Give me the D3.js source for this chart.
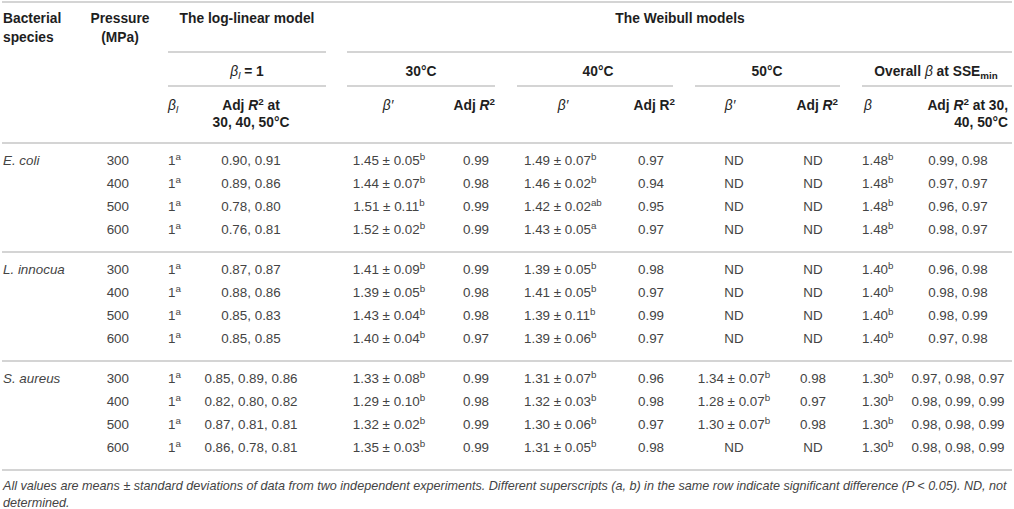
<!DOCTYPE html>
<html><head><meta charset="utf-8">
<script src="https://cdn.jsdelivr.net/npm/d3@7"></script>
<style>
body{margin:0;background:#fff}
svg{display:block}
text{font-family:"Liberation Sans",Arial,Helvetica,sans-serif}
</style>
</head><body>
<svg id="c" width="1014" height="509"></svg>
<script>
// ---------- data ----------
const species = ["E. coli", "L. innocua", "S. aureus"];
const pressures = ["300","400","500","600","300","400","500","600","300","400","500","600"];
const betaL    = ["1","1","1","1","1","1","1","1","1","1","1","1"];
const betaLSup = ["a","a","a","a","a","a","a","a","a","a","a","a"];
const logLinR2 = ["0.90, 0.91","0.89, 0.86","0.78, 0.80","0.76, 0.81",
                  "0.87, 0.87","0.88, 0.86","0.85, 0.83","0.85, 0.85",
                  "0.85, 0.89, 0.86","0.82, 0.80, 0.82","0.87, 0.81, 0.81","0.86, 0.78, 0.81"];
const w30Beta = ["1.45 ± 0.05","1.44 ± 0.07","1.51 ± 0.11","1.52 ± 0.02",
                 "1.41 ± 0.09","1.39 ± 0.05","1.43 ± 0.04","1.40 ± 0.04",
                 "1.33 ± 0.08","1.29 ± 0.10","1.32 ± 0.02","1.35 ± 0.03"];
const w30Sup  = ["b","b","b","b","b","b","b","b","b","b","b","b"];
const w30R2   = ["0.99","0.98","0.99","0.99","0.99","0.98","0.98","0.97","0.99","0.98","0.99","0.99"];
const w40Beta = ["1.49 ± 0.07","1.46 ± 0.02","1.42 ± 0.02","1.43 ± 0.05",
                 "1.39 ± 0.05","1.41 ± 0.05","1.39 ± 0.11","1.39 ± 0.06",
                 "1.31 ± 0.07","1.32 ± 0.03","1.30 ± 0.06","1.31 ± 0.05"];
const w40Sup  = ["b","b","ab","a","b","b","b","b","b","b","b","b"];
const w40R2   = ["0.97","0.94","0.95","0.97","0.98","0.97","0.99","0.97","0.96","0.98","0.97","0.98"];
const w50Beta = ["ND","ND","ND","ND","ND","ND","ND","ND","1.34 ± 0.07","1.28 ± 0.07","1.30 ± 0.07","ND"];
const w50Sup  = ["","","","","","","","","b","b","b",""];
const w50R2   = ["ND","ND","ND","ND","ND","ND","ND","ND","0.98","0.97","0.98","ND"];
const overallBeta = ["1.48","1.48","1.48","1.48","1.40","1.40","1.40","1.40","1.30","1.30","1.30","1.30"];
const overallSup  = ["b","b","b","b","b","b","b","b","b","b","b","b"];
const overallR2   = ["0.99, 0.98","0.97, 0.97","0.96, 0.97","0.98, 0.97",
                     "0.96, 0.98","0.98, 0.98","0.98, 0.99","0.97, 0.98",
                     "0.97, 0.98, 0.97","0.98, 0.99, 0.99","0.98, 0.98, 0.99","0.98, 0.98, 0.99"];
const footnote = ["All values are means ± standard deviations of data from two independent experiments. Different superscripts (a, b) in the same row indicate significant difference (P < 0.05). ND, not",
                  "determined."];

// ---------- layout ----------
const svg = d3.select("#c");
const LINE = "#c6c6c6", HEAD = "#1e1e1e", BODY = "#444";
const FS = 13.4, HFS = 13.8;

function rich(g, x, y, anchor, parts, o) {
  o = o || {};
  const t = g.append("text").attr("x", x).attr("y", y).attr("text-anchor", anchor)
    .attr("font-size", o.size || FS).attr("fill", o.color || BODY)
    .attr("font-weight", o.bold ? "bold" : "normal")
    .attr("font-style", o.italic ? "italic" : "normal");
  let off = 0;
  parts.forEach(p => {
    if (typeof p === "string") p = {t: p};
    if (!p.t) return;
    let target = 0;
    if (p.sup) target = -5.2; else if (p.sub) target = 3.5;
    const s = t.append("tspan").text(p.t).attr("dy", target - off);
    off = target;
    if (p.sup || p.sub) s.attr("font-size", 9.8);
    if (p.it !== undefined) s.attr("font-style", p.it ? "italic" : "normal");
    if (p.nb) s.attr("font-weight", "normal");
  });
  return t;
}

// horizontal rules
const hline = (x1, x2, y) => svg.append("line").attr("x1", x1).attr("x2", x2)
  .attr("y1", y).attr("y2", y).attr("stroke", LINE).attr("stroke-width", 1.6);

hline(2, 1012, 2);
hline(168, 326, 52); hline(347, 1012, 52);
hline(168, 326, 86); hline(347, 495, 86); hline(517, 673, 86); hline(695, 840, 86); hline(862, 1012, 86);

// header text
const hg = svg.append("g");
const H = (x, y, a, parts) => rich(hg, x, y + 4.8, a, parts, {bold: true, color: HEAD, size: HFS});
const B = {t: "β", it: true, nb: true};
H(3, 18, "start", ["Bacterial"]); H(3, 37, "start", ["species"]);
H(120, 18, "middle", ["Pressure"]); H(120, 37, "middle", ["(MPa)"]);
H(247, 18, "middle", ["The log-linear model"]);
H(680, 18, "middle", ["The Weibull models"]);
H(247, 71, "middle", [B, {t: "l", sub: true, it: true, nb: true}, " = 1"]);
H(421, 71, "middle", ["30°C"]);
H(598, 71, "middle", ["40°C"]);
H(767, 71, "middle", ["50°C"]);
H(936, 71, "middle", ["Overall ", B, " at SSE", {t: "min", sub: true}]);
H(168, 105, "start", [B, {t: "l", sub: true, it: true, nb: true}]);
H(251, 105, "middle", ["Adj ", {t: "R", it: true}, {t: "2", sup: true}, " at"]);
H(251, 122, "middle", ["30, 40, 50°C"]);
H(388, 105, "middle", [{t: "β′", it: true, nb: true}]);
H(495, 105, "end", ["Adj ", {t: "R", it: true}, {t: "2", sup: true}]);
H(563, 105, "middle", [{t: "β′", it: true, nb: true}]);
H(675, 105, "end", ["Adj R", {t: "2", sup: true}]);
H(730, 105, "middle", [{t: "β′", it: true, nb: true}]);
H(838, 105, "end", ["Adj ", {t: "R", it: true}, {t: "2", sup: true}]);
H(868, 105, "middle", [B]);
H(1008, 105, "end", ["Adj ", {t: "R", it: true}, {t: "2", sup: true}, " at 30,"]);
H(1008, 122, "end", ["40, 50°C"]);

// body: group band scale + row-in-group scale
const groupY = d3.scaleBand().domain(species).range([143, 470]);
const rowY = d3.scaleLinear().domain([0, 3]).range([17, 86.5]);
const rowIdx = d3.range(12);
const yOf = i => groupY(species[Math.floor(i / 4)]) + rowY(i % 4);

species.forEach(s => {
  const y0 = groupY(s);
  hline(2, 1012, y0);
  rich(svg, 3, y0 + rowY(0) + 4.7, "start", [s], {italic: true});
});
hline(2, 1012, groupY.range()[1]);

const columns = [
  {vals: pressures, x: 129, a: "end"},
  {vals: betaL, sups: betaLSup, x: 168, a: "start"},
  {vals: logLinR2, x: 251, a: "middle"},
  {vals: w30Beta, sups: w30Sup, x: 389, a: "middle"},
  {vals: w30R2, x: 463, a: "start"},
  {vals: w40Beta, sups: w40Sup, x: 524, a: "start"},
  {vals: w40R2, x: 638, a: "start"},
  {vals: w50Beta, sups: w50Sup, x: 734, a: "middle"},
  {vals: w50R2, x: 813, a: "middle"},
  {vals: overallBeta, sups: overallSup, x: 862, a: "start"},
  {vals: overallR2, x: 958, a: "middle"}
];
const bg = svg.append("g");
columns.forEach(c => {
  rowIdx.forEach(i => {
    rich(bg, c.x, yOf(i) + 4.7, c.a, [c.vals[i], {t: c.sups ? c.sups[i] : "", sup: true}]);
  });
});

// footnote
footnote.forEach((line, i) => {
  svg.append("text").attr("x", 3).attr("y", 486 + i * 17 + 4.4)
    .attr("font-size", 12.6).attr("font-style", "italic").attr("fill", "#444")
    .text(line);
});
</script>
</body></html>
